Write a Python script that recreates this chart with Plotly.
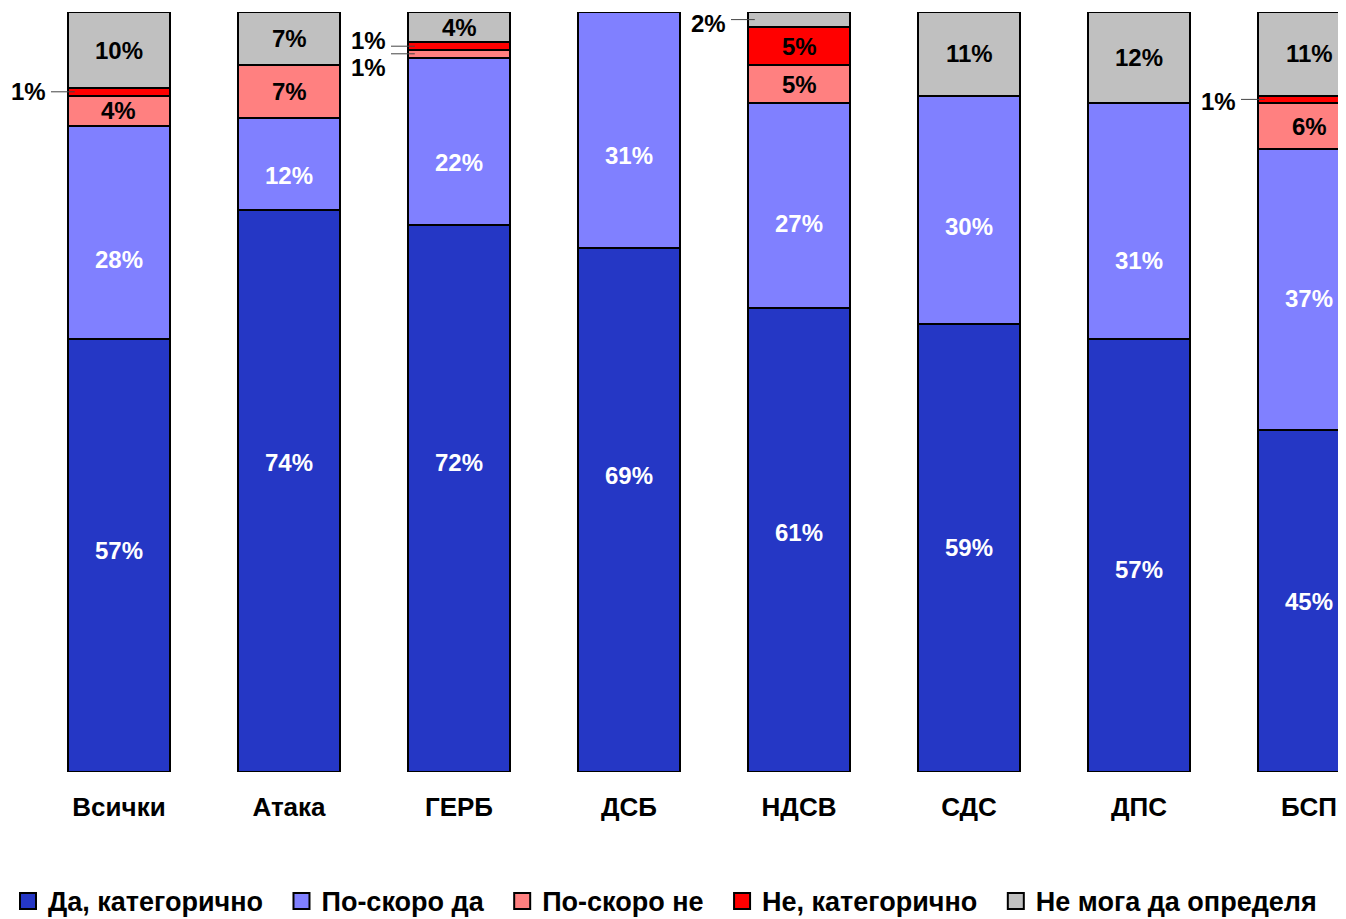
import plotly.graph_objects as go

categories = ["Всички", "Атака", "ГЕРБ", "ДСБ", "НДСВ", "СДС", "ДПС", "БСП"]
series_names = ["Да, категорично", "По-скоро да", "По-скоро не", "Не, категорично", "Не мога да определя"]
yes_definitely = [57, 74, 72, 69, 61, 59, 57, 45]
rather_yes = [28, 12, 22, 31, 27, 30, 31, 37]
rather_no = [4, 7, 1, 0, 5, 0, 0, 6]
no_definitely = [1, 0, 1, 0, 5, 0, 0, 1]
cannot_say = [10, 7, 4, 0, 2, 11, 12, 11]

series_values = [yes_definitely, rather_yes, rather_no, no_definitely, cannot_say]
colors = ["#2537C5", "#8080FF", "#FF8080", "#FF0000", "#C0C0C0"]
label_colors = ["white", "white", "black", "black", "black"]

# label placement tweaks (pixels, positive = up) for the two blue series
label_yshift = {
    0: [5, 28, 36, 34, 8, 0, -14, 0],
    1: [-27, -11, -21, -26, -18, -17, -39, -9],
}

# small segments labelled outside with leader lines: (category index, series index, text y-shift px)
leader_labels = [(0, 3, 0), (2, 3, 6), (2, 2, -14), (4, 4, -4), (7, 3, -2)]

FONT = "Liberation Sans, Arial, sans-serif"
BAR_W = 0.6
PAD = "\u2002"

fig = go.Figure()
for name, vals, col in zip(series_names, series_values, colors):
    fig.add_trace(go.Bar(
        x=categories, y=vals, name=name, width=BAR_W,
        marker=dict(color=col, line=dict(color="black", width=2)),
        showlegend=False, legendgroup=name, hoverinfo="x+y+name",
    ))
# legend entries with larger square symbols
for i, (name, col) in enumerate(zip(series_names, colors)):
    pad = PAD if i < len(series_names) - 1 else ""
    fig.add_trace(go.Scatter(
        x=[None], y=[None], mode="markers", name=name + pad, legendgroup=name,
        marker=dict(symbol="square", size=16, color=col, line=dict(color="black", width=2)),
    ))

annotations = []
shapes = []
leader_set = {(c, s) for c, s, _ in leader_labels}
for ci in range(len(categories)):
    base = 0
    for si, vals in enumerate(series_values):
        v = vals[ci]
        mid = base + v / 2
        if v >= 3 and (ci, si) not in leader_set:
            ys = label_yshift.get(si, [0] * len(categories))[ci]
            annotations.append(dict(
                x=ci, y=mid, xref="x", yref="y", text=f"{v}%", showarrow=False, yshift=ys,
                font=dict(family=FONT, size=24, color=label_colors[si], weight="bold"),
            ))
        base += v

for ci, si, shift in leader_labels:
    base = sum(series_values[k][ci] for k in range(si))
    v = series_values[si][ci]
    mid = base + v / 2
    annotations.append(dict(
        x=ci - 0.42, y=mid, xref="x", yref="y", text=f"{v}%", showarrow=False,
        xanchor="right", yshift=shift,
        font=dict(family=FONT, size=24, color="black", weight="bold"),
    ))
    shapes.append(dict(
        type="line", xref="x", yref="y", x0=ci - 0.40, x1=ci - 0.26, y0=mid, y1=mid,
        line=dict(color="#444444", width=1),
    ))

fig.update_layout(
    width=1338, height=927,
    margin=dict(l=0, r=0, t=4, b=163),
    barmode="stack",
    plot_bgcolor="white", paper_bgcolor="white",
    font=dict(family=FONT, size=24, color="black", weight="bold"),
    xaxis=dict(range=[-0.6529, 7.2176], showgrid=False, zeroline=False, showline=False,
               ticks="", ticklabelstandoff=17,
               tickfont=dict(family=FONT, size=26, color="black", weight="bold")),
    yaxis=dict(range=[0, 100], visible=False),
    legend=dict(orientation="h", x=0, xanchor="left", y=-0.138, yanchor="top",
                traceorder="normal", font=dict(family=FONT, size=27, color="black", weight="bold"),
                itemsizing="trace"),
    annotations=annotations,
    shapes=shapes,
)

fig.write_html("out.html")
